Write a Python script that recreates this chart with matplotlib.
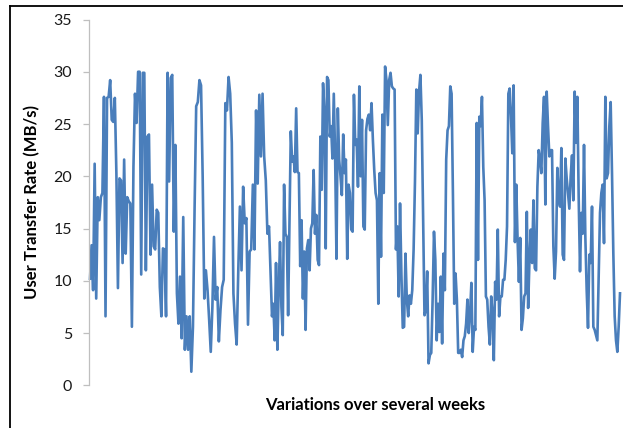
import matplotlib
matplotlib.use("Agg")
import matplotlib.pyplot as plt
from matplotlib.lines import Line2D
import numpy as np

# Transfer rate readings (MB/s), in time order, split into six stretches
stretch1 = [10.2, 13.4, 9.1, 21.2, 8.3, 18.0, 15.8, 18.0, 18.4, 27.6, 6.6, 27.5, 27.6, 29.2, 25.4, 25.2,
            27.5, 20.3, 9.3, 19.8, 19.6, 11.7, 21.6, 12.6, 18.0, 17.6, 17.4, 5.6, 20.9, 27.9, 25.1, 30.0,
            30.0, 10.6, 29.9, 29.9, 11.0, 23.8, 24.0, 12.5, 19.2, 13.3, 13.0, 16.8, 16.5, 9.4, 6.6, 13.1,
            13.0, 6.6, 29.9, 19.5, 29.4, 29.7, 14.7, 23.0, 8.8, 5.9]
stretch2 = [10.4, 4.5, 16.1, 3.4, 6.6, 3.4, 6.6, 1.3, 5.6, 16.8, 26.7, 27.1, 29.2, 28.7, 20.0, 8.3,
            11.0, 9.1, 6.3, 3.2, 7.5, 14.2, 8.2, 9.4, 4.2, 7.2, 9.4, 10.1, 27.0, 26.3, 29.5, 27.9,
            23.2, 8.8, 5.9, 3.9, 11.0, 17.1, 11.0, 19.0, 15.5, 16.0, 5.8, 12.8, 13.0, 19.2, 13.0, 26.3,
            19.3, 27.8, 21.9, 27.9, 21.9, 19.6, 14.5, 15.2]
stretch3 = [10.4, 6.6, 7.8, 4.3, 11.7, 3.4, 9.4, 13.7, 7.5, 4.8, 19.2, 14.5, 14.2, 6.7, 15.2, 24.3,
            21.4, 21.9, 20.4, 26.5, 20.4, 20.3, 11.4, 15.8, 8.3, 12.8, 5.3, 13.1, 13.9, 11.0, 15.0, 15.5,
            20.6, 14.5, 16.3, 12.0, 11.5, 23.8, 18.7, 28.9, 26.3, 13.1, 29.5, 29.2, 23.8, 24.8, 21.7, 27.9,
            21.9, 12.1, 26.5, 21.6, 20.0, 18.2, 24.0, 20.3, 21.6, 12.1, 19.2, 18.4, 14.9, 14.7, 27.8, 23.0,
            23.5, 19.0, 28.6]
stretch4 = [20.0, 25.4, 15.2, 14.9, 24.4, 25.5, 25.9, 24.4, 27.0, 23.5, 20.6, 18.4, 17.7, 7.8, 20.3, 12.3,
            25.9, 18.4, 30.5, 29.2, 24.9, 29.2, 29.9, 28.6, 28.4, 28.3, 13.0, 15.2, 8.5, 17.4, 10.7, 5.5,
            5.6, 12.6, 8.2, 6.6, 8.6, 7.8, 9.1, 13.0, 19.5, 28.3, 24.1, 28.1, 29.7, 25.4, 15.8, 6.7,
            7.2, 10.9, 2.1, 2.9, 3.1, 8.2, 14.7, 12.0, 4.3, 7.8, 5.1, 10.4, 4.0, 12.6, 9.1, 21.6,
            24.4, 24.8]
stretch5 = [28.6, 27.9, 18.4, 7.8, 10.7, 8.2, 3.1, 3.1, 3.4, 2.7, 4.3, 4.7, 5.9, 8.2, 5.0, 6.9,
            9.8, 3.2, 5.6, 5.3, 25.1, 12.0, 25.7, 24.8, 27.6, 20.9, 17.7, 8.5, 8.2, 5.6, 3.9, 8.5,
            6.9, 2.4, 9.9, 8.2, 14.9, 6.6, 8.5, 8.5, 10.1, 10.1, 12.0, 15.2, 27.9, 28.4, 25.7, 22.2,
            28.7, 13.7, 19.2, 13.9, 9.9, 14.1, 5.3, 6.4, 8.5, 8.8, 16.6, 7.4, 12.0, 14.9, 11.7, 17.7,
            11.2, 11.0, 19.0, 22.5]
stretch6 = [21.6, 20.3, 25.1, 27.6, 17.3, 28.1, 24.8, 21.9, 22.5, 22.5, 13.3, 10.2, 12.8, 20.8, 18.0, 17.1,
            22.7, 12.5, 12.0, 21.7, 19.8, 18.4, 16.9, 20.0, 22.0, 17.7, 28.1, 23.2, 27.6, 18.0, 10.9, 16.5,
            14.5, 23.0, 14.2, 9.1, 5.5, 12.5, 11.7, 17.1, 5.6, 5.3, 4.8, 4.3, 10.4, 16.5, 18.4, 19.2,
            13.6, 27.6, 19.8, 20.3, 24.8, 27.1, 20.3, 12.6, 6.6, 4.3, 3.2, 5.6, 8.8]

# start day of each stretch, plus the day of the final reading
stretch_days = [0.0, 7.0, 14.05, 21.05, 28.02, 35.0, 41.22]

y_ticks = [0, 5, 10, 15, 20, 25, 30, 35]
y_label = "User Transfer Rate (MB/s)"
x_label = "Variations over several weeks"

stretches = [stretch1, stretch2, stretch3, stretch4, stretch5, stretch6]
times, rates = [], []
for i, s in enumerate(stretches):
    last = i == len(stretches) - 1
    n = len(s)
    tt = np.linspace(stretch_days[i], stretch_days[i + 1], n if last else n + 1)
    if not last:
        tt = tt[:-1]
    times.append(tt)
    rates.append(np.array(s))
t = np.concatenate(times)
rate = np.concatenate(rates)

W, H = 623, 428
fig = plt.figure(figsize=(W / 100, H / 100), dpi=100)
fig.patch.set_facecolor("white")
ax = fig.add_axes([90 / W, 1 - 385.3 / H, (620 - 90) / W, (385.3 - 19.5) / H])

ax.plot(t, rate, color="#4a7ebb", lw=1.9, solid_joinstyle="round", clip_on=False)

ax.set_xlim(stretch_days[0], stretch_days[-1])
ax.set_ylim(0, 35)
ax.set_yticks(y_ticks)
ax.set_xticks([])
for s in ["top", "right", "bottom"]:
    ax.spines[s].set_visible(False)
ax.spines["left"].set_color("#bfbfbf")
ax.spines["left"].set_linewidth(0.9)
ax.spines["left"].set_position(("outward", 0.5))
ax.tick_params(axis="y", direction="out", length=4, width=0.9, color="#bfbfbf",
               pad=8.5, labelsize=11.5, labelcolor="#1a1a1a")
for lab in ax.get_yticklabels():
    lab.set_fontfamily("Lato")

fig.text(32.5 / W, 1 - 202 / H, y_label, rotation=90, ha="center", va="center",
         fontsize=12, fontweight="bold", family="Lato", color="black")
fig.text(375 / W, 1 - 405 / H, x_label, ha="center", va="center",
         fontsize=12, fontweight="bold", family="Lato", color="black")

# outer frame (left and top edges visible in the crop)
fig.add_artist(Line2D([9.5 / W, 9.5 / W], [0, 1 - 6 / H], transform=fig.transFigure,
                      color="black", lw=1.3))
fig.add_artist(Line2D([9.5 / W, 1], [1 - 6 / H, 1 - 6 / H], transform=fig.transFigure,
                      color="black", lw=1.3))

fig.savefig("out.png", dpi=100)
